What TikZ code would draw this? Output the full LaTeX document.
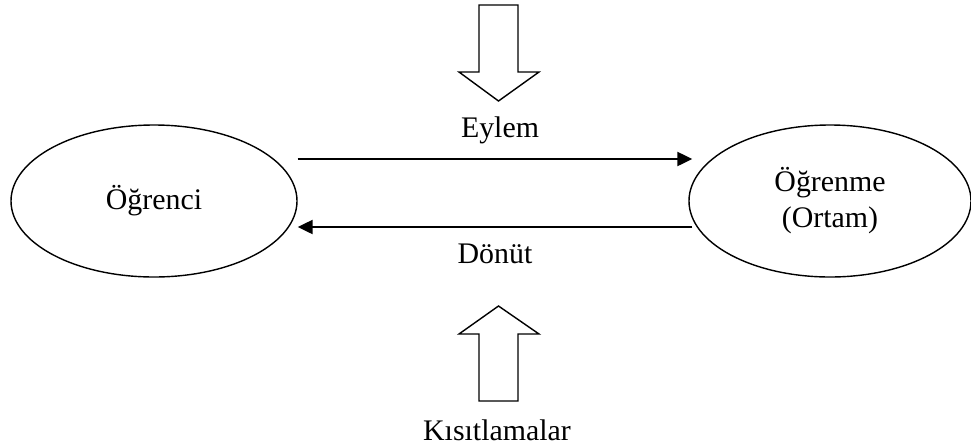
\documentclass[tikz,border=0pt]{standalone}
\usepackage{fontspec}
\setmainfont{Liberation Serif}
\usetikzlibrary{shapes.geometric,arrows.meta}
\tikzset{
	oval/.style={draw, ellipse, line width=0.8pt, inner sep=0pt, align=center},
	akis/.style={line width=1.3pt, -{Triangle[length=0.3cm, width=0.28cm]}},
	blok/.style={draw, line width=0.8pt, fill=white}
}

\begin{document}
\begin{tikzpicture}[font=\fontsize{17}{20.5}\selectfont]
			%%%%% START %%%%%
			\useasboundingbox (0, 0) rectangle (19.42, -8.88);
			
			\node[oval, minimum width=5.72cm, minimum height=3.04cm] (ogrenci) at (3.08, -4.02) {Öğrenci};
			\node[oval, minimum width=5.64cm, minimum height=3.04cm] (ortam) at (16.6, -4.02) {Öğrenme\\(Ortam)};
			
			\draw[akis] ([yshift=0.84cm]ogrenci.east) -- ([xshift=0.08cm, yshift=0.84cm]ortam.west);
			\draw[akis] ([xshift=0.08cm, yshift=-0.52cm]ortam.west) -- ([yshift=-0.52cm]ogrenci.east);
			
			\node (eylem) at (10.0, -2.6) {Eylem};
			\node (donut) at (9.9, -5.08) {Dönüt};
			
			% block arrow from above
			\draw[blok] (9.58, -0.1) -- (10.36, -0.1) -- (10.36, -1.44) -- (10.78, -1.44) -- (9.97, -2.02)
				-- (9.18, -1.44) -- (9.58, -1.44) -- cycle;
			
			% block arrow from below
			\draw[blok] (9.58, -8.02) -- (10.36, -8.02) -- (10.36, -6.68) -- (10.78, -6.68) -- (9.97, -6.12)
				-- (9.18, -6.68) -- (9.58, -6.68) -- cycle;
			\node (kisit) at (9.94, -8.6) {Kısıtlamalar};
			
			%%%%% END %%%%%
\end{tikzpicture}
\end{document}
